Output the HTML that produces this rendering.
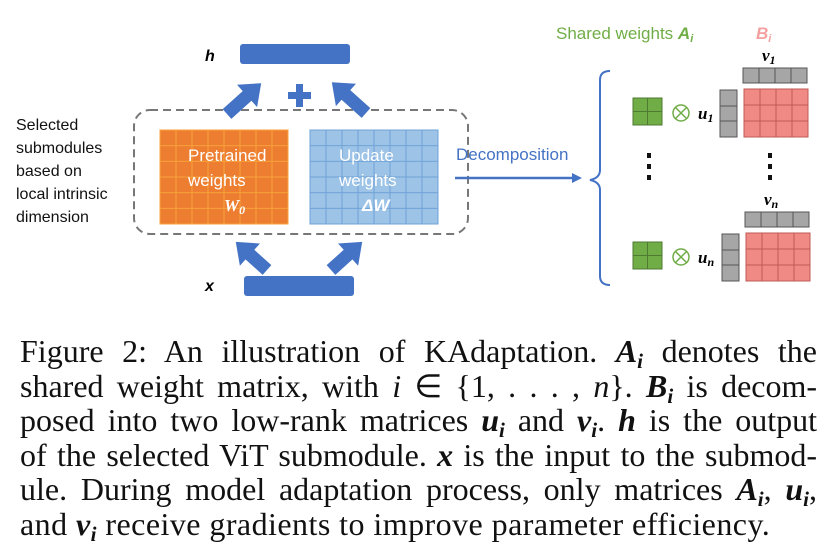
<!DOCTYPE html>
<html><head><meta charset="utf-8"><style>
body{margin:0;background:#fff;width:829px;height:554px;overflow:hidden;position:relative;font-family:"Liberation Serif",serif}
svg{position:absolute;left:0;top:0}
#cap{position:absolute;left:20px;top:334px;width:797px;font-size:32px;color:#111}
#cap div{height:34.6px;line-height:34.6px;text-align:justify;text-align-last:justify;white-space:nowrap;overflow:visible}
#cap b{font-style:italic}
#cap sub{font-size:21px;line-height:0;vertical-align:-6px}
</style></head><body>
<svg width="829" height="330" font-family="Liberation Sans, sans-serif">
<defs>
<pattern id="og" width="16" height="15.67" patternUnits="userSpaceOnUse" x="160" y="130"><rect width="16" height="15.67" fill="#ed7d31" stroke="#f7a23a" stroke-width="1"/></pattern>
<pattern id="bg" width="16" height="15.67" patternUnits="userSpaceOnUse" x="310" y="130"><rect width="16" height="15.67" fill="#9dc3e6" stroke="#6fa2d8" stroke-width="1"/></pattern>
</defs>
<text x="205" y="61" font-size="16" font-style="italic" font-weight="bold">h</text>
<rect x="240" y="44" width="110" height="20" rx="3" fill="#4472c4"/>
<text x="205" y="291" font-size="16" font-style="italic" font-weight="bold">x</text>
<rect x="244" y="276" width="110" height="20" rx="3" fill="#4472c4"/>
<rect x="134" y="110" width="334" height="124" rx="16" fill="none" stroke="#777" stroke-width="2" stroke-dasharray="8 5"/>
<rect x="160" y="130" width="128" height="94" fill="url(#og)" stroke="#f7a23a"/>
<rect x="310" y="130" width="128" height="94" fill="url(#bg)" stroke="#6fa2d8"/>
<g fill="#fff" font-size="17">
<text x="188" y="161">Pretrained</text><text x="188" y="186">weights</text>
<text x="224" y="211" font-weight="bold" font-style="italic" font-family="Liberation Serif, serif">W<tspan font-size="12" dy="3">0</tspan></text>
<text x="339" y="161">Update</text><text x="339" y="186">weights</text>
<text x="362" y="211" font-weight="bold" font-style="italic">ΔW</text>
</g>
<g fill="#4472c4">
<g transform="translate(227,114) rotate(-42)"><rect x="0" y="-6.5" width="30" height="13"/><polygon points="27,-15 46,0 27,15"/></g>
<g transform="translate(366,113) rotate(-138)"><rect x="0" y="-6.5" width="30" height="13"/><polygon points="27,-15 46,0 27,15"/></g>
<g transform="translate(267,270) rotate(-138)"><rect x="0" y="-6.5" width="26" height="13"/><polygon points="23,-15 42,0 23,15"/></g>
<g transform="translate(331,270) rotate(-42)"><rect x="0" y="-6.5" width="26" height="13"/><polygon points="23,-15 42,0 23,15"/></g>
<rect x="288" y="92" width="23" height="7"/><rect x="296" y="84" width="7" height="23"/>
</g>
<text x="456" y="160" font-size="17" fill="#4472c4">Decomposition</text>
<line x1="455" y1="178" x2="573" y2="178" stroke="#4472c4" stroke-width="2.5"/>
<polygon points="572,173 582,178 572,183" fill="#4472c4"/>
<path d="M610,71 Q600,71 600,80 L600,170 Q600,178 590,180 Q600,182 600,190 L600,276 Q600,285 610,285" fill="none" stroke="#4472c4" stroke-width="2"/>
<text x="556" y="39" font-size="17" fill="#70ad47">Shared weights <tspan font-weight="bold" font-style="italic">A</tspan><tspan font-size="11" font-style="italic" font-weight="bold" dy="3">i</tspan></text>
<text x="756" y="39" font-size="17" fill="#f4a0a0" font-weight="bold" font-style="italic">B<tspan font-size="11" dy="3">i</tspan></text>
<g id="r1">
<rect x="633" y="98" width="29" height="27" fill="#70ad47" stroke="#4e7a32"/><line x1="647.5" y1="98" x2="647.5" y2="125" stroke="#4e7a32"/><line x1="633" y1="111.5" x2="662" y2="111.5" stroke="#4e7a32"/>
<circle cx="681" cy="113" r="8" fill="none" stroke="#70ad47" stroke-width="1.5"/><path d="M675.5,107.5 L686.5,118.5 M686.5,107.5 L675.5,118.5" stroke="#70ad47" stroke-width="1.5"/>
<text x="698" y="119" font-size="17" font-weight="bold" font-style="italic" font-family="Liberation Serif, serif">u<tspan font-size="12" dy="3">1</tspan></text>
<g fill="#a6a6a6" stroke="#555"><rect x="720" y="90" width="17" height="16"/><rect x="720" y="106" width="17" height="15"/><rect x="720" y="121" width="17" height="16"/>
<rect x="743" y="68" width="16" height="15"/><rect x="759" y="68" width="16" height="15"/><rect x="775" y="68" width="16" height="15"/><rect x="791" y="68" width="16" height="15"/></g>
<g fill="#f08a85" stroke="#c05a55"><rect x="744" y="89" width="16" height="16"/><rect x="760" y="89" width="16" height="16"/><rect x="776" y="89" width="16" height="16"/><rect x="792" y="89" width="16" height="16"/>
<rect x="744" y="105" width="16" height="16"/><rect x="760" y="105" width="16" height="16"/><rect x="776" y="105" width="16" height="16"/><rect x="792" y="105" width="16" height="16"/>
<rect x="744" y="121" width="16" height="16"/><rect x="760" y="121" width="16" height="16"/><rect x="776" y="121" width="16" height="16"/><rect x="792" y="121" width="16" height="16"/></g>
<text x="762" y="61" font-size="17" font-weight="bold" font-style="italic" font-family="Liberation Serif, serif">v<tspan font-size="12" dy="3">1</tspan></text>
</g>
<g transform="translate(0,144)">
<rect x="633" y="98" width="29" height="27" fill="#70ad47" stroke="#4e7a32"/><line x1="647.5" y1="98" x2="647.5" y2="125" stroke="#4e7a32"/><line x1="633" y1="111.5" x2="662" y2="111.5" stroke="#4e7a32"/>
<circle cx="681" cy="113" r="8" fill="none" stroke="#70ad47" stroke-width="1.5"/><path d="M675.5,107.5 L686.5,118.5 M686.5,107.5 L675.5,118.5" stroke="#70ad47" stroke-width="1.5"/>
<text x="698" y="119" font-size="17" font-weight="bold" font-style="italic" font-family="Liberation Serif, serif">u<tspan font-size="12" dy="3">n</tspan></text>
<g transform="translate(2,0)">
<g fill="#a6a6a6" stroke="#555"><rect x="720" y="90" width="17" height="16"/><rect x="720" y="106" width="17" height="15"/><rect x="720" y="121" width="17" height="16"/>
<rect x="743" y="68" width="16" height="15"/><rect x="759" y="68" width="16" height="15"/><rect x="775" y="68" width="16" height="15"/><rect x="791" y="68" width="16" height="15"/></g>
<g fill="#f08a85" stroke="#c05a55"><rect x="744" y="89" width="16" height="16"/><rect x="760" y="89" width="16" height="16"/><rect x="776" y="89" width="16" height="16"/><rect x="792" y="89" width="16" height="16"/>
<rect x="744" y="105" width="16" height="16"/><rect x="760" y="105" width="16" height="16"/><rect x="776" y="105" width="16" height="16"/><rect x="792" y="105" width="16" height="16"/>
<rect x="744" y="121" width="16" height="16"/><rect x="760" y="121" width="16" height="16"/><rect x="776" y="121" width="16" height="16"/><rect x="792" y="121" width="16" height="16"/></g>
<text x="762" y="61" font-size="17" font-weight="bold" font-style="italic" font-family="Liberation Serif, serif">v<tspan font-size="12" dy="3">n</tspan></text>
</g></g>
<g fill="#111"><rect x="647" y="153" width="4" height="5"/><rect x="647" y="164" width="4" height="5"/><rect x="647" y="175" width="4" height="5"/>
<rect x="768" y="153" width="4" height="5"/><rect x="768" y="164" width="4" height="5"/><rect x="768" y="175" width="4" height="5"/></g>
<g font-size="16" fill="#111">
<text x="16" y="130">Selected</text><text x="16" y="153">submodules</text><text x="16" y="176">based on</text><text x="16" y="199">local intrinsic</text><text x="16" y="222">dimension</text></g>
</svg>
<div id="cap">
<div>Figure 2: An illustration of KAdaptation. <b>A<sub>i</sub></b> denotes the</div>
<div>shared weight matrix, with <i>i</i> ∈ {1, . . . , <i>n</i>}. <b>B<sub>i</sub></b> is decom-</div>
<div>posed into two low-rank matrices <b>u<sub>i</sub></b> and <b>v<sub>i</sub></b>. <b>h</b> is the output</div>
<div>of the selected ViT submodule. <b>x</b> is the input to the submod-</div>
<div>ule. During model adaptation process, only matrices <b>A<sub>i</sub></b>, <b>u<sub>i</sub></b>,</div>
<div style="text-align-last:left;letter-spacing:0.45px">and <b>v<sub>i</sub></b> receive gradients to improve parameter efficiency.</div>
</div>
</body></html>
